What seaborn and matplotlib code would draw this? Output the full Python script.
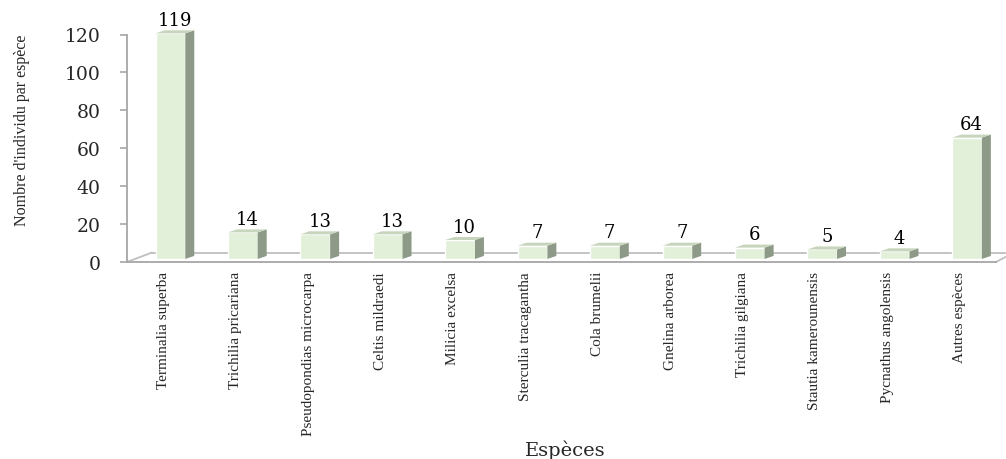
import numpy as np
import pandas as pd
import matplotlib
matplotlib.use("Agg")
import matplotlib.pyplot as plt
from matplotlib.patches import Polygon
import seaborn as sns

# data
species = ["Terminalia superba", "Trichilia pricariana", "Pseudopondias microcarpa",
           "Celtis mildraedi", "Milicia excelsa", "Sterculia tracagantha",
           "Cola brumelii", "Gnelina arborea", "Trichilia gilgiana",
           "Stautia kamerounensis", "Pycnathus angolensis", "Autres espèces"]
counts = [119, 14, 13, 13, 10, 7, 7, 7, 6, 5, 4, 64]
yticks = [0, 20, 40, 60, 80, 100, 120]

df = pd.DataFrame({"espece": species, "n": counts})

# colours of the 3D-looking bars
front_col = "#E2EFD9"
side_col = "#8D9A87"
top_col = "#C6D5BB"
axis_col = "#A6A6A6"

sns.set_style("white")
plt.rcParams["font.family"] = ["Liberation Serif", "DejaVu Serif"]

fig = plt.figure(figsize=(10.06, 4.6), dpi=100)
ax = fig.add_axes([127 / 1006, 1 - 263 / 460, 869 / 1006, 227.5 / 460])

sns.barplot(data=df, x="espece", y="n", color=front_col, saturation=1,
            width=0.41, ax=ax, zorder=3)

# fake depth: small shift, floor offset, side + top faces
dx, dy = 0.124, 1.6
base = 1.6
shift = 0.1
for p in list(ax.patches):
    p.set_x(p.get_x() + shift)
    p.set_y(p.get_y() + base)
    p.set_clip_on(False)
    x0, w = p.get_x(), p.get_width()
    y0, h = p.get_y(), p.get_height()
    side = Polygon([(x0 + w, y0), (x0 + w + dx, y0 + dy),
                    (x0 + w + dx, y0 + h + dy), (x0 + w, y0 + h)],
                   closed=True, facecolor=side_col, edgecolor="none",
                   zorder=3, clip_on=False)
    top = Polygon([(x0, y0 + h), (x0 + dx, y0 + h + dy),
                   (x0 + w + dx, y0 + h + dy), (x0 + w, y0 + h)],
                  closed=True, facecolor=top_col, edgecolor="none",
                  zorder=3, clip_on=False)
    ax.add_patch(side)
    ax.add_patch(top)
    ax.annotate(f"{int(round(h))}", (x0 + w / 2 + dx / 2, y0 + h + dy),
                xytext=(0, 1), textcoords="offset points", ha="center",
                va="bottom", fontsize=13, family="DejaVu Serif", color="black",
                annotation_clip=False)

# floor outline
floor_back = 5.0
ax.plot([-0.5, -0.155], [0, floor_back], color="#BFBFBF", lw=1.3, clip_on=False, zorder=1)
ax.plot([-0.155, 11.75], [floor_back, floor_back], color="#BFBFBF", lw=1.3, clip_on=False, zorder=1)
ax.plot([11.5, 11.75], [0, floor_back], color="#BFBFBF", lw=1.3, clip_on=False, zorder=1)

ax.set_xlim(-0.5, len(species) - 0.5)
ax.set_ylim(0, 120)
ax.set_yticks(yticks)
ax.set_yticklabels([str(t) for t in yticks], family="DejaVu Serif", fontsize=13.5)

ax.set_xticks(range(len(species)))
ax.set_xticklabels(species, rotation=90, fontsize=11, va="top")
ax.set_xticks(np.arange(-0.5, len(species)), minor=True)
ax.tick_params(axis="x", which="major", length=0, pad=6.5)
ax.tick_params(axis="x", which="minor", length=3.6, color=axis_col, width=1.2)
ax.tick_params(axis="y", length=5, color=axis_col, width=1.2, pad=14, left=True)

for s in ["top", "right"]:
    ax.spines[s].set_visible(False)
for s in ["left", "bottom"]:
    ax.spines[s].set_color(axis_col)
    ax.spines[s].set_linewidth(1.3)

ax.set_xlabel("")
ax.set_ylabel("")
fig.text(22 / 1006, 1 - 130 / 460, "Nombre d'individu par espèce", rotation=90,
         ha="center", va="center", fontsize=11.5)
fig.text(565 / 1006, 1 - 450 / 460, "Espèces", ha="center", va="center",
         fontsize=14, family="DejaVu Serif")

fig.savefig("out.png", dpi=100)
